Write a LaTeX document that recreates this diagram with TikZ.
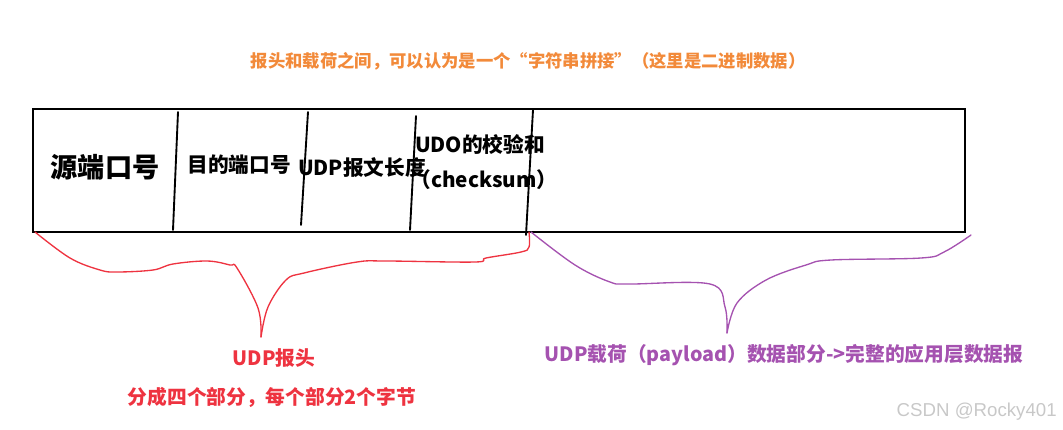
\documentclass[tikz,border=0pt]{standalone}
\usepackage{fontspec}
\setmainfont{Noto Sans CJK SC}
\newfontfamily\markfont{Liberation Sans}
\usetikzlibrary{positioning}
\definecolor{headred}{HTML}{EE3340}
\definecolor{loadpurple}{HTML}{A552B0}
\definecolor{noteorange}{HTML}{F28A3A}
\definecolor{markgray}{HTML}{C8C8C8}
\tikzset{line width=.8pt,
  frame/.style={draw=black,line width=2pt},
  divider/.style={draw=black,line width=1.4pt,line cap=round},
  brace/.style={line width=1pt,line join=round,line cap=round},
  field/.style={inner sep=0pt,font=\bfseries\fontsize{15.5}{18}\selectfont},
  caption/.style={inner sep=0pt,font=\bfseries\fontsize{14.8}{17}\selectfont}}
\begin{document}
\begin{tikzpicture}[x=.75pt,y=-.75pt]
\useasboundingbox(0,0)rectangle(1063,429);
\coordinate(tl)at(33,109);\coordinate(br)at(965,232);
\coordinate(rtip)at(261,337);\coordinate(ptip)at(727,333);
\draw[frame](tl)rectangle(br);
\foreach \tx/\ty/\bx/\by in {178/112/173/230,308/112/301/225,416/116/410/230,533/110/526/235}{\draw[divider](\tx,\ty)--(\bx,\by);}
\node[inner sep=0pt,font=\bfseries\fontsize{20.4}{24}\selectfont](src)at(105,167){源端口号};
\node[field](dst)at(239,165){目的端口号};
\node[field](len)at(362,168){UDP报文长度};
\node[field](chk)at(480,145){UDO的校验和};
\node[field](sum)at(484,180){（checksum）};
\draw[brace,headred]plot[smooth,tension=.6]coordinates{(35,232)(70,258)(100,270)(117,272)(153,270)(173,264)(207,261)(230,265)(237,268)(258,308)(rtip)};
\draw[brace,headred]plot[smooth,tension=.6]coordinates{(rtip)(268,307)(286,280)(304,273)(357,262)(386,261)(475,262)(486,258)(521,252)(529,247)(529,232)};
\draw[brace,loadpurple]plot[smooth,tension=.6]coordinates{(531,232)(575,265)(610,282)(629,284)(710,284)(725,307)(ptip)};
\draw[brace,loadpurple]plot[smooth,tension=.6]coordinates{(ptip)(737,303)(766,280)(806,265)(831,260)(921,258)(944,252)(971,235)};
\node[inner sep=0pt,text=noteorange,font=\bfseries\fontsize{13}{16}\selectfont](note)at(528,61){报头和载荷之间，可以认为是一个“字符串拼接”（这里是二进制数据）};
\node[caption,text=headred](hdr)at(274,358){UDP报头};
\node[caption,text=headred](parts)at(272,397){分成四个部分，每个部分2个字节};
\node[caption,text=loadpurple](load)at(784,355){UDP载荷（payload）数据部分->完整的应用层数据报};
\node[inner sep=0pt,anchor=east,text=markgray,font=\markfont\fontsize{14}{16}\selectfont](mark)at(1057,412){CSDN @Rocky401};
\end{tikzpicture}
\end{document}
